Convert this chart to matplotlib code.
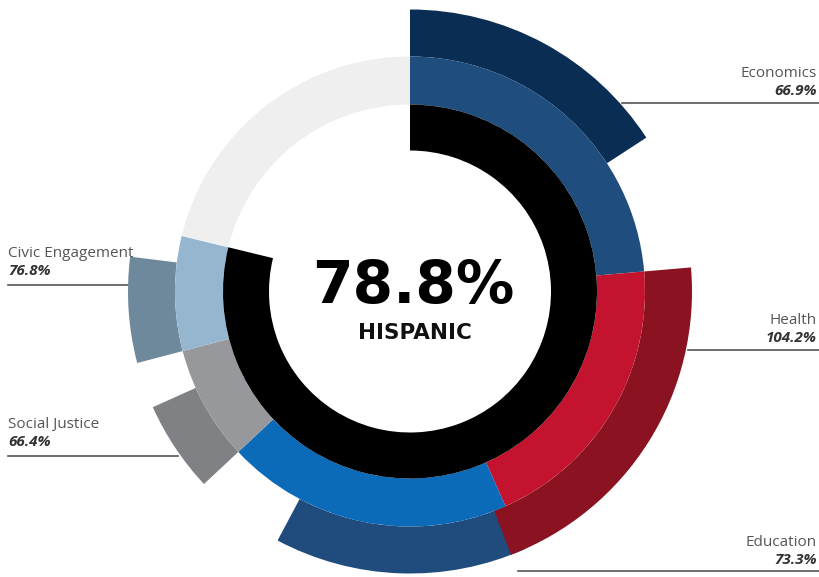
import matplotlib.pyplot as plt
from matplotlib.patches import Wedge

# index categories, clockwise from 12 o'clock
categories = ["Economics", "Health", "Education", "Social Justice", "Civic Engagement"]
weights = [0.30, 0.25, 0.25, 0.10, 0.10]
scores = [66.9, 104.2, 73.3, 66.4, 76.8]
overall = 78.8
group = "HISPANIC"

inner_colors = ["#1f4e7e", "#c3132f", "#0b6bb8", "#97989b", "#96b6cf"]
outer_colors = ["#0a2d53", "#8b1220", "#1f4b7d", "#808184", "#6f899c"]

# label placement (pixels): text x, name baseline, line y, line x-range, alignment
label_pos = [
    (817, 77, 103, (622, 819), "right"),
    (817, 324, 350, (688, 819), "right"),
    (817, 546, 571, (518, 819), "right"),
    (8, 428, 456, (8, 178), "left"),
    (8, 257, 285, (8, 130), "left"),
]

W, H = 819, 577
cx, cy = 410, 291.5
r_hole, r_black, r_mid, r_out = 141, 187, 235, 282

fig = plt.figure(figsize=(W / 100, H / 100), dpi=100)
ax = fig.add_axes([0, 0, 1, 1])
ax.set_xlim(0, W)
ax.set_ylim(H, 0)
ax.set_aspect("equal")
ax.axis("off")

# y axis is inverted, so data angle = clockwise angle from top - 90
def wedge(a0, a1, r, width, color, z):
    ax.add_patch(Wedge((cx, cy), r, a0 - 90, a1 - 90, width=width,
                       facecolor=color, edgecolor="none", zorder=z))

total = overall / 100 * 360
starts = []
a = 0
for w in weights:
    starts.append(a)
    a += w * total

# outer ring: score share of each segment, drawn in reverse so overflow sits on top
for i in reversed(range(len(categories))):
    span = weights[i] * total
    wedge(starts[i], starts[i] + span * scores[i] / 100, r_out, r_out - r_mid,
          outer_colors[i], 1)

# middle ring
for i in range(len(categories)):
    span = weights[i] * total
    wedge(starts[i], starts[i] + span, r_mid, r_mid - r_black, inner_colors[i], 2)
wedge(total, 360, r_mid, r_mid - r_black, "#efefef", 2)

# overall ring
wedge(0, total, r_black, r_black - r_hole, "black", 3)

ax.text(413, 287, f"{overall}%", ha="center", va="center", fontsize=42,
        fontweight="bold", family="DejaVu Sans", color="black", zorder=5)
ax.text(415, 333, group, ha="center", va="center", fontsize=15.5,
        fontweight="bold", family="DejaVu Sans", color="#111111", zorder=5)

for i, name in enumerate(categories):
    tx, ty, ly, (lx0, lx1), ha = label_pos[i]
    ax.text(tx, ty, name, ha=ha, va="baseline", fontsize=11,
            family=["Open Sans", "DejaVu Sans"], color="#555555", zorder=5)
    ax.text(tx, ty + 18, f"{scores[i]}%", ha=ha, va="baseline", fontsize=11,
            family=["Open Sans", "DejaVu Sans"], fontweight="bold",
            fontstyle="italic", color="#333333", zorder=5)
    ax.plot([lx0, lx1], [ly, ly], color="#555555", lw=1.2, zorder=0)

fig.savefig("out.png", dpi=100, facecolor="white")
